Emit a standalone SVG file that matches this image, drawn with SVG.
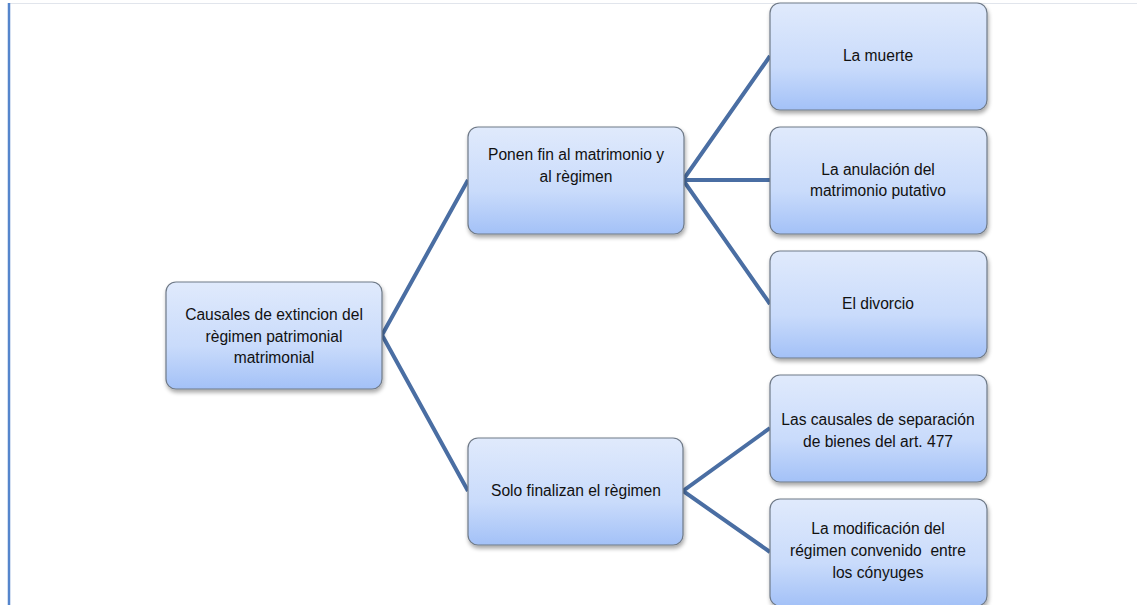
<svg xmlns="http://www.w3.org/2000/svg" width="1137" height="605" viewBox="0 0 1137 605">
<defs>
<linearGradient id="g" x1="0" y1="0" x2="0" y2="1">
<stop offset="0" stop-color="#e0eafc"/>
<stop offset="0.6" stop-color="#c9dbfb"/>
<stop offset="1" stop-color="#a3c1f7"/>
</linearGradient>
<filter id="sh" x="-10%" y="-10%" width="125%" height="130%">
<feGaussianBlur in="SourceAlpha" stdDeviation="2"/>
<feOffset dx="1" dy="3"/>
<feComponentTransfer><feFuncA type="linear" slope="0.35"/></feComponentTransfer>
<feMerge><feMergeNode/><feMergeNode in="SourceGraphic"/></feMerge>
</filter>
</defs>
<style>
.box{fill:url(#g);stroke:#6f7a88;stroke-width:1.2;filter:url(#sh)}
.t{font-family:"Liberation Sans",Arial,sans-serif;font-size:15.6px;fill:#111;text-anchor:middle}
.c{stroke:#4a6ea3;stroke-width:4;fill:none;stroke-linejoin:miter}
</style>
<rect width="1137" height="605" fill="#fff"/>
<line x1="8" y1="3.5" x2="1137" y2="3.5" stroke="#e1e5ec" stroke-width="1"/>
<line x1="9" y1="3" x2="9" y2="605" stroke="#5585cc" stroke-width="2.5"/>
<g id="connectors">
<polyline class="c" points="468,180 382,335 468,491"/>
<polyline class="c" points="770,56 683,180 770,304"/>
<line class="c" x1="683" y1="180" x2="770" y2="180"/>
<polyline class="c" points="770,428 683,491 770,552"/>
</g>
<g id="root">
<rect class="box" x="166" y="282" width="216" height="107" rx="10"/>
<text class="t" x="274" y="320">Causales de extincion del</text>
<text class="t" x="274" y="342">règimen patrimonial</text>
<text class="t" x="274" y="363">matrimonial</text>
</g>
<g id="ponen">
<rect class="box" x="468" y="127" width="216" height="107" rx="10"/>
<text class="t" x="576" y="160">Ponen fin al matrimonio y</text>
<text class="t" x="576" y="182">al règimen</text>
</g>
<g id="solo">
<rect class="box" x="468" y="438" width="215" height="107" rx="10"/>
<text class="t" x="576" y="496">Solo finalizan el règimen</text>
</g>
<g id="muerte">
<rect class="box" x="770" y="3" width="217" height="107" rx="10"/>
<text class="t" x="878" y="61">La muerte</text>
</g>
<g id="anulacion">
<rect class="box" x="770" y="127" width="217" height="107" rx="10"/>
<text class="t" x="878" y="175">La anulación del</text>
<text class="t" x="878" y="196">matrimonio putativo</text>
</g>
<g id="divorcio">
<rect class="box" x="770" y="251" width="217" height="107" rx="10"/>
<text class="t" x="878" y="309">El divorcio</text>
</g>
<g id="causales">
<rect class="box" x="770" y="375" width="217" height="107" rx="10"/>
<text class="t" x="878" y="425">Las causales de separación</text>
<text class="t" x="878" y="447">de bienes del art. 477</text>
</g>
<g id="modificacion">
<rect class="box" x="770" y="499" width="217" height="107" rx="10"/>
<text class="t" x="878" y="534">La modificación del</text>
<text class="t" x="878" y="556" xml:space="preserve">régimen convenido  entre</text>
<text class="t" x="878" y="578">los cónyuges</text>
</g>
</svg>
